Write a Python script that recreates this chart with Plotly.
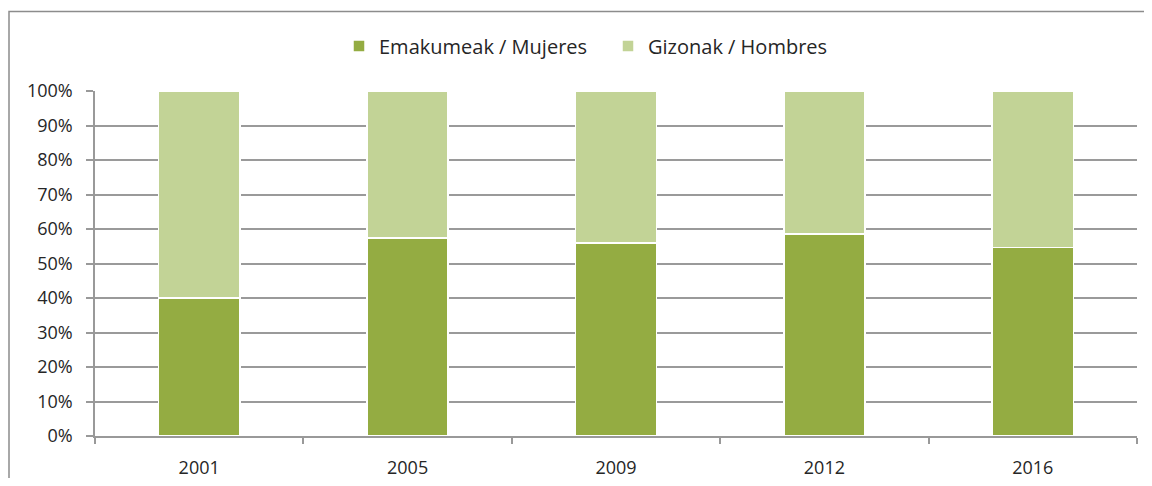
import plotly.graph_objects as go

years = ["2001", "2005", "2009", "2012", "2016"]
mujeres = [40.0, 57.4, 56.0, 58.5, 54.6]
hombres = [60.0, 42.6, 44.0, 41.5, 45.4]
y_ticks = [0, 10, 20, 30, 40, 50, 60, 70, 80, 90, 100]
y_labels = [f"{v}%" for v in y_ticks]

# page has an 8px body margin; figure placed at (8, 8)
OFF = 8
W, H = 1152 - 2 * OFF, 486 - 2 * OFF
L, T = 95 - OFF, 91 - OFF
pw, ph = 1042, 345
R = W - L - pw
B = H - T - ph

fig = go.Figure()
fig.add_trace(go.Bar(x=years, y=mujeres, name="Emakumeak / Mujeres",
                     marker=dict(color="#94AC42", line=dict(color="white", width=1.5))))
fig.add_trace(go.Bar(x=years, y=hombres, name="Gizonak / Hombres",
                     marker=dict(color="#C2D396", line=dict(color="white", width=1.5))))

def px_x(p):  # absolute screen x -> paper
    return (p - OFF - L) / pw

def px_y(p):  # absolute screen y -> paper
    return (H - B - (p - OFF)) / ph

fig.add_shape(type="rect", xref="paper", yref="paper",
              x0=px_x(9), x1=px_x(1200), y0=px_y(540), y1=px_y(11.5),
              line=dict(color="#8c8c8c", width=1.5), layer="below")

fig.update_layout(
    width=W, height=H,
    barmode="stack", bargap=0.61,
    margin=dict(l=L, r=R, t=T, b=B, autoexpand=False),
    plot_bgcolor="white", paper_bgcolor="white",
    font=dict(family="Open Sans, Noto Sans, sans-serif", size=19, color="#262626"),
    legend=dict(orientation="h", x=px_x(608), xanchor="center", y=px_y(46), yanchor="middle",
                font=dict(size=20), traceorder="normal", itemwidth=30,
                entrywidth=224),
    xaxis=dict(type="category", showline=True, linecolor="#999", linewidth=1.5,
               ticks="outside", tickson="boundaries", ticklen=6, tickcolor="#999",
               tickwidth=1.5, showgrid=False, tickfont=dict(size=18),
               ticklabelstandoff=15, automargin=False),
    yaxis=dict(range=[0, 100], tickvals=y_ticks, ticktext=y_labels,
               showgrid=True, gridcolor="#9a9a9a", gridwidth=1.5,
               showline=True, linecolor="#999", linewidth=1.5,
               ticks="outside", ticklen=7, tickcolor="#999", tickwidth=1.5,
               tickfont=dict(size=18), zeroline=False, ticklabelstandoff=10,
               automargin=False),
    showlegend=True,
)

fig.write_html("out.html")
